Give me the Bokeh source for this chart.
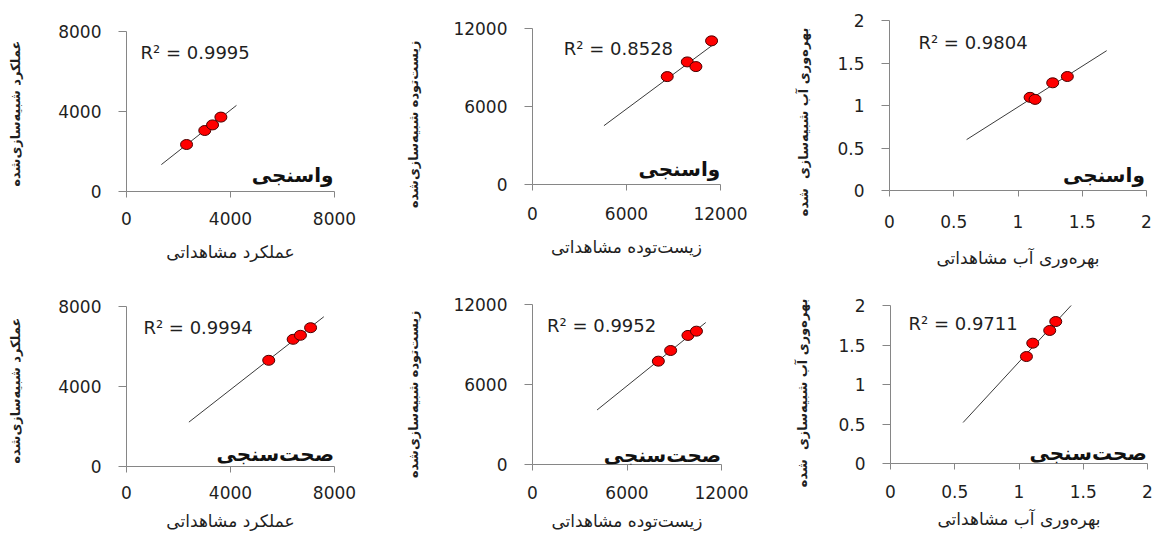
import math
import numpy as np
from bokeh.plotting import figure
from bokeh.models import Range1d, FixedTicker, Label
from bokeh.layouts import column, row
from bokeh.embed import file_html
from bokeh.resources import INLINE

# ---- data: observed vs simulated (calibration = واسنجی, validation = صحت‌سنجی) ----
yield_cal_obs = [2310, 3010, 3310, 3630]
yield_cal_sim = [2350, 3050, 3330, 3720]
yield_val_obs = [5470, 6410, 6690, 7080]
yield_val_sim = [5310, 6360, 6560, 6940]

biomass_cal_obs = [8600, 9880, 10430, 11430]
biomass_cal_sim = [8300, 9430, 9070, 11050]
biomass_val_obs = [7990, 8770, 9870, 10410]
biomass_val_sim = [7750, 8550, 9680, 10000]

wp_cal_obs = [1.094, 1.133, 1.270, 1.384]
wp_cal_sim = [1.096, 1.072, 1.267, 1.341]
wp_val_obs = [1.058, 1.107, 1.239, 1.286]
wp_val_sim = [1.354, 1.523, 1.684, 1.797]

# x-extent of each drawn trendline
trend_yield_cal = [1340, 4230]
trend_yield_val = [2400, 7590]
trend_biomass_cal = [4560, 11570]
trend_biomass_val = [4100, 11000]
trend_wp_cal = [0.60, 1.69]
trend_wp_val = [0.565, 1.42]

r2_yield_cal, r2_yield_val = "0.9995", "0.9994"
r2_biomass_cal, r2_biomass_val = "0.8528", "0.9952"
r2_wp_cal, r2_wp_val = "0.9804", "0.9711"

ticks_yield = [0, 4000, 8000]
ticks_biomass = [0, 6000, 12000]
ticks_wp = [0, 0.5, 1, 1.5, 2]
tick_labels_yield = ["0", "4000", "8000"]
tick_labels_biomass = ["0", "6000", "12000"]
tick_labels_wp = ["0", "0.5", "1", "1.5", "2"]

ZW = "\u200c"
title_yield_obs = "عملکرد مشاهداتی"
title_yield_sim = f"عملکرد شبیه{ZW}سازی{ZW}شده"
title_biomass_obs = f"زیست{ZW}توده مشاهداتی"
title_biomass_sim = f"زیست{ZW}توده شبیه{ZW}سازی{ZW}شده"
title_wp_obs = f"بهره{ZW}وری آب مشاهداتی"
title_wp_sim = f"بهره{ZW}وری آب شبیه{ZW}سازی \u00a0شده"
tag_cal = "واسنجی"
tag_val = f"صحت{ZW}سنجی"

FONT = "DejaVu Sans"
AXIS_GRAY = "#868686"
TEXT = "#1f1f1f"


def free_frame(fig):
    # each plot keeps its own frame edges inside a row
    if hasattr(fig, "frame_align"):
        fig.frame_align = False
    return fig


def side_title(width, height, text, cx, top):
    """Narrow strip holding a vertical (bottom-to-top) axis title."""
    t = figure(width=width, height=height, x_range=Range1d(0, width),
               y_range=Range1d(0, height), x_axis_location=None,
               y_axis_location=None, output_backend="svg",
               toolbar_location=None, min_border=0)
    t.min_border_left = t.min_border_right = 0
    t.min_border_top = t.min_border_bottom = 0
    t.outline_line_color = None
    t.xgrid.visible = False
    t.ygrid.visible = False
    t.add_layout(Label(x=cx, y=height - top, text=text, angle=math.pi / 2,
                       text_font=FONT, text_font_size="13px",
                       text_font_style="bold", text_color=TEXT,
                       text_align="right", text_baseline="middle"))
    return free_frame(t)


def panel(width, height, borders, ticks, tick_labels, obs, sim, trend_x, r2,
          r2_pos, tag, tag_pos, xtitle, xstandoffs):
    left, right, top, bottom = borders
    vmax = ticks[-1]
    p = figure(width=width, height=height,
               x_range=Range1d(0, vmax), y_range=Range1d(0, vmax),
               output_backend="svg", toolbar_location=None,
               min_border_left=left, min_border_right=right,
               min_border_top=top, min_border_bottom=bottom)
    p.outline_line_color = None
    p.background_fill_color = "white"
    p.border_fill_color = "white"
    p.xgrid.visible = False
    p.ygrid.visible = False
    overrides = {t: l for t, l in zip(ticks, tick_labels)}
    for ax in (p.xaxis[0], p.yaxis[0]):
        ax.ticker = FixedTicker(ticks=ticks)
        ax.major_label_overrides = overrides
        ax.axis_line_color = AXIS_GRAY
        ax.major_tick_line_color = AXIS_GRAY
        ax.minor_tick_line_color = None
        ax.major_tick_in = 0
        ax.major_label_text_font = FONT
        ax.major_label_text_font_size = "17px"
        ax.major_label_text_color = TEXT
        ax.axis_label_text_font = FONT
        ax.axis_label_text_color = TEXT
    p.xaxis.major_tick_out = 6
    p.yaxis.major_tick_out = 8
    p.xaxis.major_label_standoff = xstandoffs[0]
    p.xaxis.axis_label = xtitle
    p.xaxis.axis_label_standoff = xstandoffs[1]
    p.xaxis.axis_label_text_font_size = "17px"
    p.xaxis.axis_label_text_font_style = "normal"
    p.yaxis.major_label_standoff = 17

    # linear trendline fitted to the points
    slope, intercept = np.polyfit(obs, sim, 1)
    tx = np.array(trend_x, dtype=float)
    p.line(tx, slope * tx + intercept, line_color="#3a3a3a", line_width=1)

    p.ellipse(obs, sim, width=12, height=10, width_units="screen",
              height_units="screen", fill_color="#ff0000",
              line_color="#4a0000", line_width=1)

    p.add_layout(Label(x=r2_pos[0], y=r2_pos[1], text=f"R² = {r2}",
                       text_font=FONT, text_font_size="18px", text_color=TEXT,
                       text_align="left", text_baseline="middle"))
    p.add_layout(Label(x=tag_pos[0], y=tag_pos[1], text=tag,
                       text_font=FONT, text_font_size="20px", text_font_style="bold",
                       text_color="#111111", text_align="right",
                       text_baseline="middle"))
    return free_frame(p)


t1 = side_title(30, 270, title_yield_sim, 15, 40)
p1 = panel(350, 270, (96, 46, 31, 79), ticks_yield, tick_labels_yield,
           yield_cal_obs, yield_cal_sim, trend_yield_cal, r2_yield_cal,
           (540, 6950), tag_cal, (7960, 850), title_yield_obs, (14, 14))
t2 = side_title(50, 270, title_biomass_sim, 33, 40)
p2 = panel(330, 270, (102, 40, 28, 86), ticks_biomass, tick_labels_biomass,
           biomass_cal_obs, biomass_cal_sim, trend_biomass_cal, r2_biomass_cal,
           (2000, 10480), tag_cal, (11980, 1230), title_biomass_obs, (16, 14))
t3 = side_title(60, 270, title_wp_sim, 43, 27)
p3 = panel(333, 270, (69, 7, 20, 79), ticks_wp, tick_labels_wp,
           wp_cal_obs, wp_cal_sim, trend_wp_cal, r2_wp_cal,
           (0.225, 1.745), tag_cal, (1.987, 0.187), title_wp_obs, (18, 17))

t4 = side_title(30, 263, title_yield_sim, 15, 47)
p4 = panel(350, 263, (96, 46, 36, 67), ticks_yield, tick_labels_yield,
           yield_val_obs, yield_val_sim, trend_yield_val, r2_yield_val,
           (650, 6940), tag_val, (7980, 640), title_yield_obs, (13, 9))
t5 = side_title(50, 263, title_biomass_sim, 33, 40)
p5 = panel(330, 263, (102, 39, 34, 69), ticks_biomass, tick_labels_biomass,
           biomass_val_obs, biomass_val_sim, trend_biomass_val, r2_biomass_val,
           (920, 10450), tag_val, (11980, 700), title_biomass_obs, (15, 9))
t6 = side_title(60, 263, title_wp_sim, 42, 28)
p6 = panel(333, 263, (70, 6, 35, 70), ticks_wp, tick_labels_wp,
           wp_val_obs, wp_val_sim, trend_wp_val, r2_wp_val,
           (0.14, 1.768), tag_val, (1.995, 0.13), title_wp_obs, (15, 8))

layout = column(row(t1, p1, t2, p2, t3, p3), row(t4, p4, t5, p5, t6, p6))

with open("out.html", "w") as f:
    f.write(file_html(layout, INLINE))
